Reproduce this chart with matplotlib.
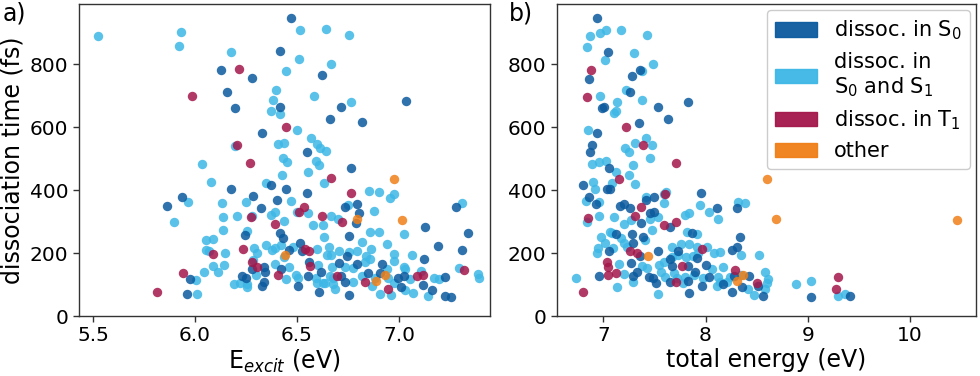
import matplotlib
matplotlib.use("Agg")
import matplotlib.pyplot as plt
import matplotlib.patches as mpatches

# ---------------- data ----------------
categories = ["dissoc. in S$_0$", "dissoc. in\nS$_0$ and S$_1$", "dissoc. in T$_1$", "other"]
colors = ["#0b5a9e", "#3db7e6", "#a3164a", "#f07f17"]

# Panel a: excitation energy (eV) vs dissociation time (fs)
a_s0_x = [6.470, 6.414, 6.127, 6.280, 6.621, 6.156, 6.195, 6.414, 6.714, 6.660, 6.819, 7.033, 6.326,
          6.549, 6.763, 6.176, 6.373, 6.445, 5.937, 5.863, 6.547, 6.282, 6.401, 6.321, 6.733, 6.796,
          6.803, 6.789, 7.280, 7.340, 7.129, 6.754, 6.246, 6.418, 6.429, 6.515, 6.462, 6.524, 7.190,
          7.311, 7.121, 6.743, 6.705, 6.794, 6.557, 6.336, 6.421, 6.277, 6.342, 6.616, 6.915, 6.846,
          6.907, 6.230, 6.249, 6.552, 6.714, 6.733, 6.994, 7.025, 7.226, 5.974, 6.337, 6.326, 6.506,
          7.008, 7.119, 7.164, 5.961, 6.609, 6.756, 7.224, 7.254]
a_s0_y = [949, 841, 783, 757, 765, 713, 662, 665, 666, 626, 617, 683, 583,
          522, 469, 405, 416, 405, 377, 351, 392, 381, 369, 343, 345, 357,
          328, 295, 346, 264, 284, 253, 258, 264, 249, 233, 210, 207, 222,
          211, 182, 190, 170, 164, 172, 156, 148, 150, 139, 141, 164, 138,
          138, 126, 121, 127, 127, 109, 122, 127, 123, 119, 108, 95, 95,
          91, 97, 83, 71, 77, 66, 63, 61]

a_s01_x = [5.523, 5.929, 5.922, 6.176, 6.514, 6.643, 6.753, 6.508, 6.666, 6.448, 6.397, 6.384, 6.584,
           6.763, 6.374, 6.415, 6.502, 6.569, 6.195, 6.408, 6.437, 6.596, 6.612, 6.640, 6.429, 6.453,
           6.594, 6.607, 6.032, 6.552, 6.426, 6.079, 6.634, 6.347, 6.470, 5.963, 6.131, 6.248, 6.851,
           6.900, 6.958, 6.977, 7.311, 6.751, 6.879, 6.370, 6.393, 6.498, 6.552, 6.136, 6.207, 6.280,
           6.435, 5.896, 6.666, 6.699, 6.578, 6.625, 6.138, 6.255, 6.857, 6.904, 7.026, 6.632, 6.052,
           6.089, 6.346, 6.819, 6.942, 6.288, 6.376, 6.391, 6.420, 6.481, 6.052, 6.070, 6.147, 6.306,
           6.596, 6.656, 6.705, 6.753, 6.794, 6.864, 6.973, 7.064, 6.645, 6.666, 6.836, 6.857, 6.833,
           6.973, 6.285, 6.393, 6.437, 6.463, 6.089, 6.142, 6.603, 6.671, 6.735, 6.774, 6.942, 7.026,
           7.029, 7.106, 7.293, 6.043, 6.113, 6.301, 6.497, 6.505, 6.591, 6.661, 6.678, 6.818, 6.884,
           6.945, 7.052, 7.170, 7.197, 7.385, 7.394, 6.004, 6.190, 6.218, 6.255, 6.255, 6.445, 6.596,
           6.625, 6.636, 6.678, 6.774, 6.869, 6.973, 7.029, 6.684, 6.010, 6.907, 6.959, 7.070, 7.140]
a_s01_y = [891, 902, 857, 838, 910, 911, 895, 817, 802, 780, 717, 687, 700,
           682, 651, 642, 590, 567, 540, 546, 550, 546, 534, 526, 503, 491,
           493, 481, 483, 459, 448, 427, 422, 422, 366, 362, 358, 362, 397,
           393, 376, 387, 359, 353, 333, 321, 331, 331, 326, 316, 317, 318,
           303, 299, 317, 310, 290, 288, 272, 270, 267, 267, 261, 251, 242,
           245, 227, 235, 230, 215, 210, 215, 226, 220, 210, 208, 199, 199,
           214, 218, 207, 202, 208, 213, 197, 193, 194, 193, 192, 182, 172,
           175, 178, 165, 189, 157, 160, 161, 162, 157, 155, 152, 150, 157,
           148, 144, 153, 141, 141, 130, 131, 120, 120, 126, 120, 126, 120,
           122, 118, 120, 119, 132, 122, 114, 103, 106, 102, 93, 117, 104,
           106, 106, 102, 108, 94, 106, 84, 85, 70, 70, 67, 72, 64]

a_t1_x = [6.215, 5.986, 6.444, 6.205, 6.271, 6.666, 6.766, 6.535, 6.511, 6.272, 6.623, 6.722, 6.392,
          6.235, 6.537, 6.560, 6.086, 6.280, 6.304, 6.562, 5.942, 6.406, 6.694, 7.087, 7.116, 7.319,
          6.835, 6.946, 5.811]
a_t1_y = [784, 698, 601, 544, 486, 438, 391, 348, 331, 314, 319, 299, 291,
          212, 212, 208, 196, 171, 156, 159, 136, 131, 127, 127, 131, 145,
          109, 85, 76]

a_other_x = [6.977, 7.016, 6.796, 6.441, 6.931, 6.886]
a_other_y = [437, 305, 307, 193, 130, 112]

# Panel b: total energy (eV) vs dissociation time (fs)
b_s0_x = [6.935, 7.046, 6.857, 7.280, 7.359, 7.264, 6.984, 7.007, 7.531, 7.636, 7.352, 7.828, 6.938,
          6.892, 6.873, 7.052, 6.804, 7.033, 7.069, 6.857, 6.925, 7.160, 7.199, 7.261, 7.414, 7.499,
          7.952, 8.112, 8.304, 7.460, 7.499, 7.368, 7.655, 7.284, 7.127, 7.391, 7.864, 8.333, 7.294,
          8.255, 8.304, 7.052, 7.531, 7.359, 7.727, 7.919, 8.007, 7.271, 7.652, 7.668, 7.893, 7.825,
          7.326, 7.450, 7.483, 7.512, 6.954, 7.294, 7.655, 7.828, 8.034, 7.968, 8.167, 8.275, 8.428,
          8.360, 8.513, 8.255, 7.835, 8.565, 9.028, 9.410]
b_s0_y = [948, 840, 755, 764, 782, 713, 660, 663, 665, 625, 615, 682, 581,
          545, 521, 469, 416, 405, 405, 377, 356, 350, 356, 342, 369, 379,
          391, 344, 344, 328, 330, 295, 283, 260, 260, 250, 265, 252, 232,
          211, 220, 208, 208, 191, 208, 183, 163, 170, 180, 159, 141, 160,
          141, 125, 120, 106, 127, 127, 109, 111, 123, 95, 103, 127, 127,
          93, 95, 76, 72, 65, 60, 63]

b_s01_x = [6.870, 6.844, 6.971, 7.030, 7.173, 7.424, 7.303, 7.016, 7.483, 7.378, 7.222, 6.964, 7.130,
           7.375, 7.104, 7.124, 6.853, 7.421, 7.313, 7.473, 7.209, 7.254, 7.460, 7.294, 6.892, 6.961,
           7.026, 7.121, 7.251, 6.902, 6.915, 7.306, 7.085, 6.830, 6.961, 7.593, 7.609, 7.414, 7.596,
           8.321, 8.386, 7.949, 8.036, 8.121, 7.799, 7.841, 6.958, 7.108, 7.199, 7.274, 7.456, 7.538,
           7.479, 6.840, 7.062, 6.981, 7.088, 7.173, 7.199, 6.948, 6.935, 7.013, 7.095, 7.228, 7.411,
           7.818, 7.913, 7.672, 7.756, 7.834, 7.913, 8.082, 8.141, 8.349, 8.519, 8.016, 7.150, 7.199,
           7.294, 7.375, 7.424, 7.548, 7.589, 7.670, 7.730, 7.805, 7.880, 7.929, 7.564, 7.603, 7.694,
           7.720, 7.776, 7.799, 7.886, 7.971, 8.059, 8.173, 8.118, 8.141, 8.108, 8.206, 8.239, 8.346,
           8.418, 8.474, 8.581, 8.613, 8.597, 8.584, 7.531, 7.134, 6.733, 8.888, 9.035, 9.292, 9.367]
b_s01_y = [891, 855, 901, 908, 910, 894, 837, 815, 801, 779, 718, 699, 682,
           686, 644, 653, 590, 566, 551, 544, 533, 523, 502, 481, 482, 489,
           493, 458, 447, 425, 405, 421, 422, 366, 361, 389, 395, 377, 358,
           361, 358, 353, 332, 309, 321, 326, 318, 315, 292, 305, 309, 316,
           272, 299, 268, 250, 263, 247, 233, 215, 199, 231, 215, 220, 242,
           268, 260, 218, 230, 228, 220, 199, 203, 193, 194, 218, 164, 132,
           109, 159, 154, 162, 173, 189, 194, 189, 191, 199, 141, 125, 138,
           120, 106, 125, 129, 122, 148, 157, 125, 109, 95, 107, 125, 129,
           85, 67, 141, 118, 104, 85, 70, 93, 120, 102, 112, 63, 70]

b_t1_x = [6.883, 6.840, 7.222, 7.385, 7.711, 7.153, 7.600, 7.372, 7.313, 6.853, 7.590, 7.711, 7.261,
          7.326, 7.965, 7.039, 7.049, 7.049, 7.124, 7.769, 7.708, 8.291, 8.506, 9.292, 9.276, 6.798]
b_t1_y = [783, 697, 600, 544, 485, 437, 388, 348, 318, 313, 290, 300, 208,
          199, 212, 171, 157, 130, 136, 159, 109, 146, 105, 125, 85, 75]

b_other_x = [8.598, 8.686, 10.459, 7.440, 8.304, 8.369]
b_other_y = [436, 307, 304, 192, 111, 130]

y_ticks = [0, 200, 400, 600, 800]
a_x_ticks = [5.5, 6.0, 6.5, 7.0]
b_x_ticks = [7, 8, 9, 10]

# ---------------- plotting ----------------
plt.rcParams['font.family'] = ['DejaVu Sans']
fig = plt.figure(figsize=(9.8, 3.76), dpi=100)
ax_a = fig.add_axes([79 / 980, 60 / 376, 411 / 980, 312 / 376])
ax_b = fig.add_axes([557 / 980, 60 / 376, 419 / 980, 312 / 376])

panel_a = [(a_s01_x, a_s01_y, 1), (a_s0_x, a_s0_y, 0), (a_t1_x, a_t1_y, 2), (a_other_x, a_other_y, 3)]
panel_b = [(b_s01_x, b_s01_y, 1), (b_s0_x, b_s0_y, 0), (b_t1_x, b_t1_y, 2), (b_other_x, b_other_y, 3)]

for ax, series in ((ax_a, panel_a), (ax_b, panel_b)):
    for xs, ys, ci in series:
        ax.scatter(xs, ys, s=46, color=colors[ci], alpha=0.85, linewidths=0, zorder=2)
    ax.set_ylim(0, 992)
    ax.set_yticks(y_ticks)
    ax.tick_params(labelsize=14.5, length=4, width=1, color="#333333")
    for sp in ax.spines.values():
        sp.set_color("#333333")
        sp.set_linewidth(1.0)

ax_a.set_xlim(5.431, 7.446)
ax_a.set_xticks(a_x_ticks)
ax_a.set_xticklabels([f"{v:.1f}" for v in a_x_ticks])
ax_a.set_xlabel(r"E$_{excit}$ (eV)", fontsize=17, labelpad=2)
ax_a.set_ylabel("dissociation time (fs)", fontsize=17, labelpad=4)

ax_b.set_xlim(6.547, 10.646)
ax_b.set_xticks(b_x_ticks)
ax_b.set_xlabel("total energy (eV)", fontsize=17, labelpad=2)

handles = [mpatches.Patch(color=c, alpha=0.95, label=l) for c, l in zip(colors, categories)]
ax_b.legend(handles=handles, loc="upper right", fontsize=15, handlelength=2.0,
            borderaxespad=0.3, labelspacing=0.45, framealpha=1.0)

fig.text(3 / 980, 1 - 2 / 376, "a)", fontsize=17, va="top", ha="left")
fig.text(509 / 980, 1 - 2 / 376, "b)", fontsize=17, va="top", ha="left")

fig.savefig("out.png", dpi=100)
